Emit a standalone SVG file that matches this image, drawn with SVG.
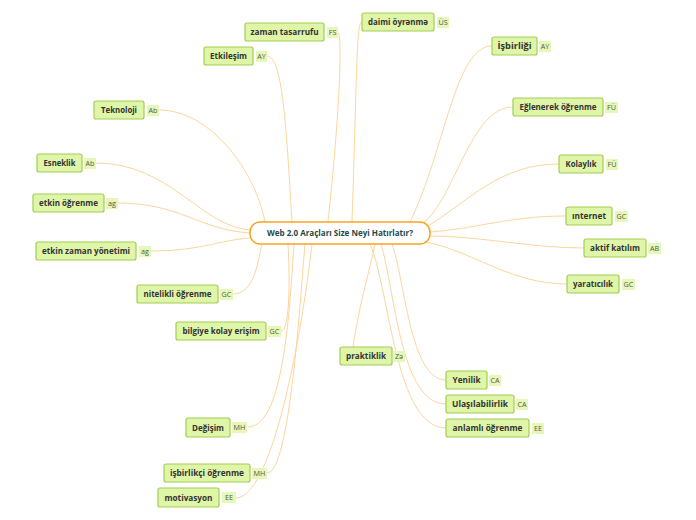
<svg xmlns="http://www.w3.org/2000/svg" width="696" height="520" viewBox="0 0 696 520">
<style>
.n rect{fill:#dff5a8;stroke:#a3cd55;stroke-width:1.2}
.n text{font-family:"Open Sans","Noto Sans",sans-serif;font-weight:700;font-size:8.5px;fill:#333;text-anchor:middle}
.l rect{fill:#e6f8b8;stroke:none}
.l text{font-family:"Open Sans","Noto Sans",sans-serif;font-size:7.2px;fill:#555;text-anchor:middle}
#connectors path{fill:none;stroke:#fdd59c;stroke-width:1}
</style>
<rect width="696" height="520" fill="#fff"/>
<g id="connectors">
<path d="M159,110 C210,110 255,170 265,222"/>
<path d="M96,163 C170,163 200,226 250,230"/>
<path d="M118,203 C180,203 200,230 250,233"/>
<path d="M151,251 C200,251 220,240 250,238"/>
<path d="M267,56 C282,56 286,120 292,222"/>
<path d="M338,33 C342,33 341,100 328,222"/>
<path d="M362,22 C356,22 357,80 352,222"/>
<path d="M492,46 C455,46 445,150 410,222"/>
<path d="M513,107 C470,107 455,200 422,224"/>
<path d="M559,164 C500,164 470,200 428,226"/>
<path d="M566,216 C510,216 480,228 430,232"/>
<path d="M584,248 C530,248 480,236 430,236"/>
<path d="M567,284 C510,284 470,250 426,242"/>
<path d="M233,294 C255,294 258,260 262,244"/>
<path d="M281,331 C290,331 290,280 288,244"/>
<path d="M248,427 C285,427 290,300 294,244"/>
<path d="M267,473 C290,473 300,300 305,244"/>
<path d="M236,498 C270,498 300,350 312,244"/>
<path d="M353,347 C360,300 370,270 375,244"/>
<path d="M446,380 C410,380 405,280 392,244"/>
<path d="M446,404 C400,404 395,290 381,244"/>
<path d="M446,428 C395,428 390,290 370,244"/>
</g>
<g id="center">
<rect x="250" y="222" width="180" height="22" rx="10" fill="#fff" stroke="#f5a623" stroke-width="1.5"/>
<text x="340" y="236" font-family="'Open Sans','Noto Sans',sans-serif" font-weight="700" font-size="8" fill="#1d4a48" text-anchor="middle" textLength="146" lengthAdjust="spacingAndGlyphs">Web 2.0 Araçları Size Neyi Hatırlatır?</text>
</g>
<g id="n1" class="n"><rect x="245" y="23" width="79" height="18" rx="2"/><text x="284.5" y="35" textLength="68" lengthAdjust="spacingAndGlyphs">zaman tasarrufu</text></g>
<g id="l1" class="l"><rect x="327" y="27" width="11" height="11"/><text x="332.5" y="35">FS</text></g>
<g id="n2" class="n"><rect x="362" y="13" width="72" height="18" rx="2"/><text x="398" y="25" textLength="60" lengthAdjust="spacingAndGlyphs">daimi öyrənmə</text></g>
<g id="l2" class="l"><rect x="437" y="17" width="12" height="11"/><text x="443" y="25">ÜS</text></g>
<g id="n3" class="n"><rect x="204" y="47" width="49" height="18" rx="2"/><text x="228.5" y="59" textLength="37" lengthAdjust="spacingAndGlyphs">Etkileşim</text></g>
<g id="l3" class="l"><rect x="256" y="51" width="11" height="11"/><text x="261.5" y="59">AY</text></g>
<g id="n4" class="n"><rect x="492" y="37" width="45" height="18" rx="2"/><text x="514.5" y="49" textLength="34" lengthAdjust="spacingAndGlyphs">İşbirliği</text></g>
<g id="l4" class="l"><rect x="539" y="41" width="12" height="11"/><text x="545" y="49">AY</text></g>
<g id="n5" class="n"><rect x="513" y="98" width="90" height="18" rx="2"/><text x="558" y="110" textLength="77" lengthAdjust="spacingAndGlyphs">Eğlenerek öğrenme</text></g>
<g id="l5" class="l"><rect x="605" y="102" width="13" height="11"/><text x="611.5" y="110">FÜ</text></g>
<g id="n6" class="n"><rect x="559" y="155" width="44" height="18" rx="2"/><text x="581" y="167" textLength="31" lengthAdjust="spacingAndGlyphs">Kolaylık</text></g>
<g id="l6" class="l"><rect x="606" y="159" width="12" height="11"/><text x="612" y="167">FÜ</text></g>
<g id="n7" class="n"><rect x="94" y="101" width="50" height="18" rx="2"/><text x="119" y="113" textLength="36" lengthAdjust="spacingAndGlyphs">Teknoloji</text></g>
<g id="l7" class="l"><rect x="147" y="105" width="12" height="11"/><text x="153" y="113">Ab</text></g>
<g id="n8" class="n"><rect x="37" y="154" width="45" height="18" rx="2"/><text x="59.5" y="166" textLength="32" lengthAdjust="spacingAndGlyphs">Esneklik</text></g>
<g id="l8" class="l"><rect x="84" y="158" width="12" height="11"/><text x="90" y="166">Ab</text></g>
<g id="n9" class="n"><rect x="33" y="194" width="71" height="18" rx="2"/><text x="68.5" y="206" textLength="59" lengthAdjust="spacingAndGlyphs">etkin öğrenme</text></g>
<g id="l9" class="l"><rect x="106" y="198" width="12" height="11"/><text x="112" y="206">ag</text></g>
<g id="n10" class="n"><rect x="36" y="242" width="100" height="18" rx="2"/><text x="86" y="254" textLength="88" lengthAdjust="spacingAndGlyphs">etkin zaman yönetimi</text></g>
<g id="l10" class="l"><rect x="139" y="246" width="12" height="11"/><text x="145" y="254">ag</text></g>
<g id="n11" class="n"><rect x="566" y="207" width="46" height="18" rx="2"/><text x="589" y="219" textLength="34" lengthAdjust="spacingAndGlyphs">ınternet</text></g>
<g id="l11" class="l"><rect x="615" y="211" width="13" height="11"/><text x="621.5" y="219">GC</text></g>
<g id="n12" class="n"><rect x="584" y="239" width="62" height="18" rx="2"/><text x="615" y="251" textLength="50" lengthAdjust="spacingAndGlyphs">aktif katılım</text></g>
<g id="l12" class="l"><rect x="648" y="243" width="13" height="11"/><text x="654.5" y="251">AB</text></g>
<g id="n13" class="n"><rect x="567" y="275" width="52" height="18" rx="2"/><text x="593" y="287" textLength="40" lengthAdjust="spacingAndGlyphs">yaratıcılık</text></g>
<g id="l13" class="l"><rect x="622" y="279" width="13" height="11"/><text x="628.5" y="287">GC</text></g>
<g id="n14" class="n"><rect x="137" y="285" width="81" height="18" rx="2"/><text x="177.5" y="297" textLength="68" lengthAdjust="spacingAndGlyphs">nitelikli öğrenme</text></g>
<g id="l14" class="l"><rect x="220" y="289" width="13" height="11"/><text x="226.5" y="297">GC</text></g>
<g id="n15" class="n"><rect x="176" y="322" width="90" height="18" rx="2"/><text x="221" y="334" textLength="77" lengthAdjust="spacingAndGlyphs">bilgiye kolay erişim</text></g>
<g id="l15" class="l"><rect x="268" y="326" width="13" height="11"/><text x="274.5" y="334">GC</text></g>
<g id="n16" class="n"><rect x="340" y="347" width="52" height="18" rx="2"/><text x="366" y="359" textLength="40" lengthAdjust="spacingAndGlyphs">praktiklik</text></g>
<g id="l16" class="l"><rect x="393" y="351" width="12" height="11"/><text x="399" y="359">Zə</text></g>
<g id="n17" class="n"><rect x="446" y="371" width="41" height="18" rx="2"/><text x="466.5" y="383" textLength="28" lengthAdjust="spacingAndGlyphs">Yenilik</text></g>
<g id="l17" class="l"><rect x="489" y="375" width="12" height="11"/><text x="495" y="383">CA</text></g>
<g id="n18" class="n"><rect x="446" y="395" width="68" height="18" rx="2"/><text x="480" y="407" textLength="56" lengthAdjust="spacingAndGlyphs">Ulaşılabilirlik</text></g>
<g id="l18" class="l"><rect x="516" y="399" width="12" height="11"/><text x="522" y="407">CA</text></g>
<g id="n19" class="n"><rect x="446" y="419" width="83" height="18" rx="2"/><text x="487.5" y="431" textLength="70" lengthAdjust="spacingAndGlyphs">anlamlı öğrenme</text></g>
<g id="l19" class="l"><rect x="532" y="423" width="12" height="11"/><text x="538" y="431">EE</text></g>
<g id="n20" class="n"><rect x="186" y="418" width="44" height="19" rx="2"/><text x="208" y="430.5" textLength="32" lengthAdjust="spacingAndGlyphs">Değişim</text></g>
<g id="l20" class="l"><rect x="232" y="422" width="15" height="11"/><text x="239.5" y="430">MH</text></g>
<g id="n21" class="n"><rect x="164" y="464" width="86" height="18" rx="2"/><text x="207" y="476" textLength="74" lengthAdjust="spacingAndGlyphs">işbirlikçi öğrenme</text></g>
<g id="l21" class="l"><rect x="252" y="468" width="15" height="11"/><text x="259.5" y="476">MH</text></g>
<g id="n22" class="n"><rect x="158" y="488" width="61" height="19" rx="2"/><text x="188.5" y="500.5" textLength="48" lengthAdjust="spacingAndGlyphs">motivasyon</text></g>
<g id="l22" class="l"><rect x="222" y="492" width="14" height="11"/><text x="229" y="500">EE</text></g>
</svg>
